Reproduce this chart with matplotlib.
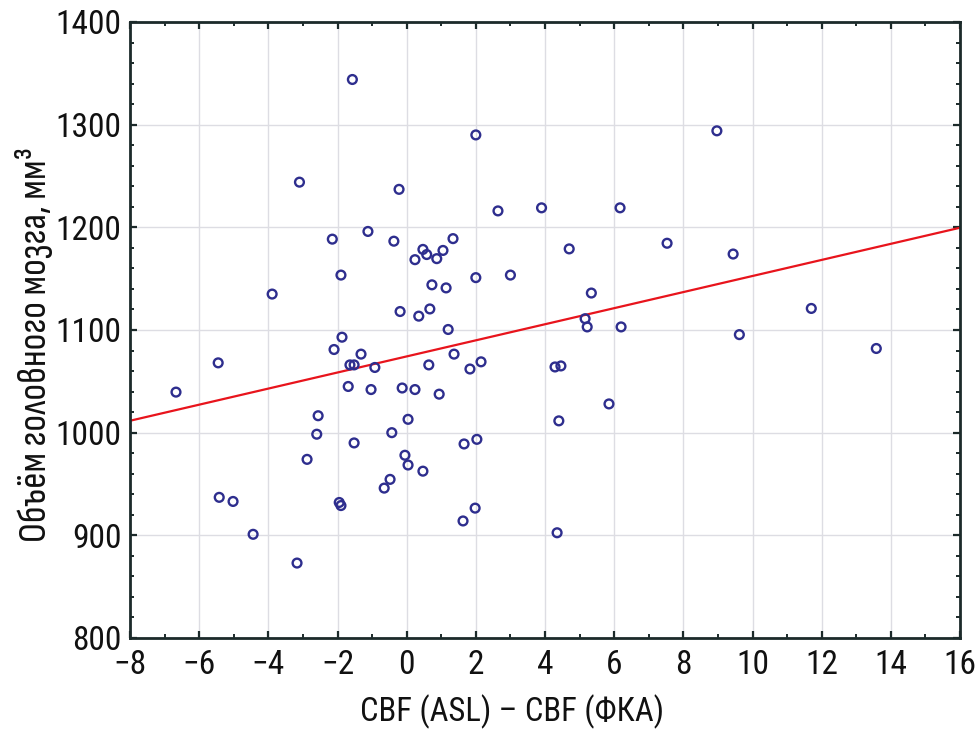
import matplotlib
matplotlib.use("Agg")
import matplotlib.pyplot as plt
from matplotlib.ticker import MultipleLocator

plt.rcParams['font.family'] = ['Roboto Condensed', 'Sofia Sans Condensed', 'DejaVu Sans']

x_vals = [-1.57, 2.0, 8.97, -3.1, -0.22, 2.64, 3.9, 6.17, -2.15, -1.12,
          -0.37, 1.34, 0.47, 1.05, 0.58, 0.87, 0.24, 4.7, 7.53, 9.44,
          -1.9, 2.0, 3.0, -3.89, 0.73, 1.14, 5.34, -0.19, 0.67, 0.35,
          11.7, 5.16, 5.22, 1.2, 6.2, 9.62, -1.87, -2.1, 13.58, -5.45,
          -1.32, 1.37, -1.64, -1.52, -0.92, 0.64, 2.15, 1.83, 4.29, 4.46,
          -6.67, -1.69, -1.03, -0.13, 0.24, 0.94, -2.56, 0.04, 4.4, 5.85,
          -2.6, -0.43, -1.52, 1.66, 2.03, -0.05, 0.04, -2.88, -0.48, -0.65,
          0.47, -5.42, -5.02, -1.95, -1.9, 1.98, 1.63, -4.44, 4.35, -3.17]
y_vals = [1344, 1290, 1294, 1244, 1237, 1216, 1219, 1219, 1188.5, 1196,
          1186.5, 1189, 1178.5, 1177.5, 1173.5, 1169.5, 1168.5, 1179, 1184.5, 1174,
          1153.5, 1151, 1153.5, 1135, 1144, 1141, 1136, 1118, 1120.5, 1113.5,
          1121, 1111, 1103, 1100.5, 1103, 1095.5, 1093, 1081, 1082, 1068,
          1076.5, 1076.5, 1066, 1066, 1063.5, 1066, 1069, 1062, 1064, 1065,
          1039.5, 1045, 1042, 1043.5, 1042, 1037.5, 1016.5, 1013, 1011.5, 1028,
          998.5, 1000, 990, 989, 993.5, 978, 968.5, 974, 954.5, 946,
          962.5, 937, 933, 932, 929, 926.5, 914, 901, 902.5, 873]

line_x = [-8, 16]
line_y = [1011.6, 1199.6]

x_label = "CBF (ASL) \u2013 CBF (\u0424\u041a\u0410)"
y_label = "\u041e\u0431\u044a\u0451\u043c \u0433\u043e\u043b\u043e\u0432\u043d\u043e\u0433\u043e \u043c\u043e\u0437\u0433\u0430, \u043c\u043c\u00b3"

fig = plt.figure(figsize=(9.8, 7.3), dpi=100)
ax = fig.add_axes([130/980, 92/730, 830/980, 616/730])

spine_col = '#1c2a2a'
ax.grid(True, which='major', color='#dddde3', linewidth=1.0, zorder=0)
ax.plot(line_x, line_y, color='#e8141c', linewidth=1.6, zorder=2)
ax.scatter(x_vals, y_vals, s=40, facecolors='none', edgecolors='#2e2e8e',
           linewidths=1.7, zorder=3)

ax.set_xlim(-8, 16)
ax.set_ylim(800, 1400)
ax.xaxis.set_major_locator(MultipleLocator(2))
ax.xaxis.set_minor_locator(MultipleLocator(1))
ax.yaxis.set_major_locator(MultipleLocator(100))
ax.yaxis.set_minor_locator(MultipleLocator(20))

for s in ax.spines.values():
    s.set_color(spine_col)
    s.set_linewidth(2.0)

ax.tick_params(which='both', direction='in', top=True, right=True, color=spine_col,
               labelsize=24, labelcolor='#111111')
ax.tick_params(which='major', length=5, width=1.6)
ax.tick_params(which='minor', length=3, width=1.4)
ax.tick_params(axis='y', pad=6)
ax.tick_params(axis='x', pad=8)

ax.set_xlabel(x_label, fontsize=23.5, color='#111111')
ax.xaxis.set_label_coords((512 - 130) / 830, -0.092)
ax.set_ylabel(y_label, fontsize=29, color='#111111',
              family=['Sofia Sans Condensed', 'Roboto Condensed', 'DejaVu Sans'])
ax.yaxis.set_label_coords(-0.093, (638 - 344.5) / 616)

fig.savefig("out.png", dpi=100)
